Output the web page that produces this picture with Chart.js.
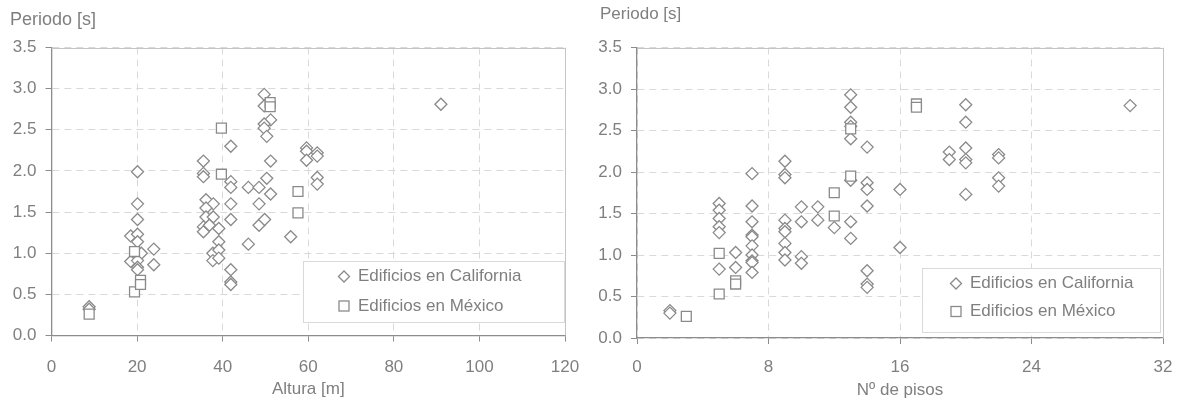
<!DOCTYPE html>
<html><head><meta charset="utf-8">
<script src="https://cdn.jsdelivr.net/npm/chart.js@4.4.1/dist/chart.umd.min.js"></script>
<style>
html,body{margin:0;padding:0;background:#fff;}
#wrap{position:relative;width:1177px;height:408px;overflow:hidden;}
#c1{position:absolute;left:0;top:0;}
#c2{position:absolute;left:588px;top:0;}
</style></head><body>
<div id="wrap"><canvas id="c1" width="588" height="408"></canvas><canvas id="c2" width="589" height="408"></canvas></div>
<script>
// ---- Data: Periodo vs Altura ----
const calAltura = [8.8,8.8, 20.1,20.1,20.1,18.5,20.1,20.1,21.0,18.5,20.1,20.1,20.1,23.9,23.9, 35.5,35.5,35.5,36.1,37.8,36.1,36.1,37.8,35.5,35.5,36.9,39.1,39.1,37.7,39.1,37.7,39.1, 41.9,41.9,41.9,41.9,41.9,41.9,41.9,41.9, 46.0,46.0, 48.5,48.5,50.3,51.2,51.2,48.5,49.8,49.7,49.7,51.2,49.7,49.7,50.3, 55.9, 59.6,59.6,59.6,62.1,62.1,62.1,62.1, 91.0];
const calPeriodoA = [0.35,0.32, 1.99,1.60,1.41,1.21,1.23,1.14,1.00,0.90,0.91,0.83,0.80,1.05,0.86, 2.12,1.97,1.93,1.65,1.60,1.55,1.44,1.44,1.32,1.26,1.34,1.30,1.14,1.00,1.04,0.91,0.94, 2.30,1.87,1.80,1.60,1.41,0.80,0.65,0.62, 1.80,1.11, 1.80,1.60,1.91,1.72,2.12,1.34,1.41,2.93,2.79,2.62,2.57,2.52,2.42, 1.20, 2.28,2.24,2.13,2.22,2.18,1.92,1.84, 2.81];
const mexAltura = [8.8, 19.4, 19.4, 20.8, 20.8, 39.7, 39.7, 51.1, 51.1, 57.6, 57.6];
const mexPeriodoA = [0.26, 1.02, 0.53, 0.67, 0.62, 2.52, 1.96, 2.83, 2.78, 1.75, 1.49];
// ---- Data: Periodo vs Nº de pisos ----
const calPisos = [2,2, 5,5,5,5,5,5, 6,6, 7,7,7,7,7,7,7,7,7,7, 9,9,9,9,9,9,9,9,9, 10,10,10,10, 11,11, 12, 13,13,13,13,13,13,13,13, 14,14,14,14,14,14,14, 16,16, 19,19, 20,20,20,20,20,20, 22,22,22,22, 30];
const calPeriodoP = [0.33,0.30, 1.62,1.54,1.44,1.34,1.27,0.83, 1.03,0.85, 1.98,1.59,1.40,1.24,1.22,1.11,1.00,0.93,0.91,0.79, 2.13,1.97,1.93,1.42,1.32,1.28,1.14,1.03,0.94, 1.58,1.40,0.98,0.90, 1.58,1.42, 1.33, 2.93,2.78,2.60,2.55,2.40,1.90,1.40,1.20, 2.30,1.87,1.79,1.59,0.81,0.65,0.61, 1.79,1.09, 2.24,2.15, 2.81,2.60,2.29,2.15,2.11,1.73, 2.21,2.17,1.93,1.83, 2.80];
const mexPisos = [3, 5, 5, 6, 6, 12, 12, 13, 13, 17, 17];
const mexPeriodoP = [0.26, 1.02, 0.53, 0.69, 0.65, 1.75, 1.47, 2.52, 1.95, 2.82, 2.78];
// ---- Labels / ticks ----
const seriesLabels = ['Edificios en California', 'Edificios en México'];
const yTitle = 'Periodo [s]';
const xTitleA = 'Altura [m]';
const xTitleB = 'Nº de pisos';
const yTicks = [0, 3.5, 0.5];        // min, max, step
const xTicksA = [0, 120, 20];
const xTicksB = [0, 32, 8];

const FONT = "'Liberation Sans', Arial, sans-serif";
const TXT = '#7f7f7f';
const MARK = '#8a8a8a';

function pts(xs, ys){ return xs.map((x,i)=>({x:x, y:ys[i]})); }

function overlay(cfg){
  return {
    id:'overlay',
    afterDraw(chart){
      const ctx = chart.ctx, a = chart.chartArea;
      ctx.save();
      ctx.setLineDash([]);
      // top and right frame
      ctx.strokeStyle = '#c4c4c4'; ctx.lineWidth = 1;
      ctx.beginPath();
      ctx.moveTo(a.left, Math.round(a.top)+0.5);
      ctx.lineTo(Math.round(a.right)+0.5, Math.round(a.top)+0.5);
      ctx.lineTo(Math.round(a.right)+0.5, a.bottom);
      ctx.stroke();
      // title
      ctx.fillStyle = TXT; ctx.font = cfg.titleSize + 'px ' + FONT;
      ctx.textAlign = 'left'; ctx.textBaseline = 'middle';
      ctx.fillText(yTitle, cfg.titleX, cfg.titleY);
      // legend box
      const L = cfg.legend;
      ctx.fillStyle = '#fff'; ctx.fillRect(L.x, L.y, L.w, L.h);
      ctx.strokeStyle = '#d9d9d9'; ctx.lineWidth = 1;
      ctx.strokeRect(L.x+0.5, L.y+0.5, L.w, L.h);
      ctx.strokeStyle = MARK; ctx.lineWidth = 1.3;
      // diamond
      let mx = L.mx, my = L.y1;
      ctx.beginPath(); ctx.moveTo(mx-5.5,my); ctx.lineTo(mx,my-5.5); ctx.lineTo(mx+5.5,my); ctx.lineTo(mx,my+5.5); ctx.closePath(); ctx.stroke();
      my = L.y2;
      ctx.strokeRect(mx-5, my-5, 10, 10);
      ctx.fillStyle = TXT; ctx.font = '17px ' + FONT;
      ctx.fillText(seriesLabels[0], L.tx, L.y1);
      ctx.fillText(seriesLabels[1], L.tx, L.y2);
      ctx.restore();
    }
  };
}

function makeChart(id, calX, calY, mexX, mexY, xt, xTitle, lay, ov){
  const tickFont = {family:FONT, size:17};
  new Chart(document.getElementById(id), {
    type:'scatter',
    data:{datasets:[
      {label:seriesLabels[1], data:pts(mexX, mexY), pointStyle:'rect', pointRadius:7, pointHoverRadius:7,
       borderColor:MARK, backgroundColor:'#fff', pointBorderWidth:1.3, borderWidth:1.3},
      {label:seriesLabels[0], data:pts(calX, calY), pointStyle:'rectRot', pointRadius:6, pointHoverRadius:6,
       borderColor:MARK, backgroundColor:'#fff', pointBorderWidth:1.3, borderWidth:1.3}
    ]},
    options:{
      responsive:false, animation:false, devicePixelRatio:1,
      layout:{padding:{left:0, right:lay.right, top:lay.top, bottom:0}},
      plugins:{legend:{display:false}, tooltip:{enabled:false}, title:{display:false}},
      scales:{
        x:{type:'linear', position:'bottom', min:xt[0], max:xt[1],
          ticks:{stepSize:xt[2], color:TXT, font:tickFont, padding:lay.xpad, maxRotation:0, autoSkip:false},
          grid:{color:'#d9d9d9', lineWidth:1, tickColor:'#8c8c8c', tickLength:6, tickBorderDash:[], drawTicks:true},
          border:{display:true, color:'#8c8c8c', width:1.3, dash:[7,5]},
          title:{display:true, text:xTitle, color:TXT, font:{family:FONT, size:17}, padding:{top:0, bottom:lay.tpad}},
          afterFit(s){ s.height = lay.xh; s.paddingRight = 4; s.paddingLeft = 4; }
        },
        y:{type:'linear', min:yTicks[0], max:yTicks[1],
          ticks:{stepSize:yTicks[2], color:TXT, font:tickFont, padding:9, callback:v=>Number(v).toFixed(1)},
          grid:{color:'#d9d9d9', lineWidth:1, tickColor:'#8c8c8c', tickLength:6, tickBorderDash:[], drawTicks:true},
          border:{display:true, color:'#8c8c8c', width:1.3, dash:[7,5]},
          afterFit(s){ s.width = lay.yw; s.paddingTop = 4; s.paddingBottom = 4; }
        }
      }
    },
    plugins:[overlay(ov)]
  });
}

makeChart('c1', calAltura, calPeriodoA, mexAltura, mexPeriodoA, xTicksA, xTitleA,
  {right:23, top:47.5, xpad:16, tpad:8, xh:72.5, yw:51.5},
  {titleX:10, titleY:20, titleSize:18,
   legend:{x:303, y:261, w:261, h:61, mx:344, y1:276.5, y2:306, tx:358}});
makeChart('c2', calPisos, calPeriodoP, mexPisos, mexPeriodoP, xTicksB, xTitleB,
  {right:14, top:47.5, xpad:13, tpad:7, xh:70, yw:49},
  {titleX:12, titleY:14, titleSize:17,
   legend:{x:334, y:268, w:238, h:64, mx:368, y1:283.5, y2:311.5, tx:382}});
</script>
</body></html>
